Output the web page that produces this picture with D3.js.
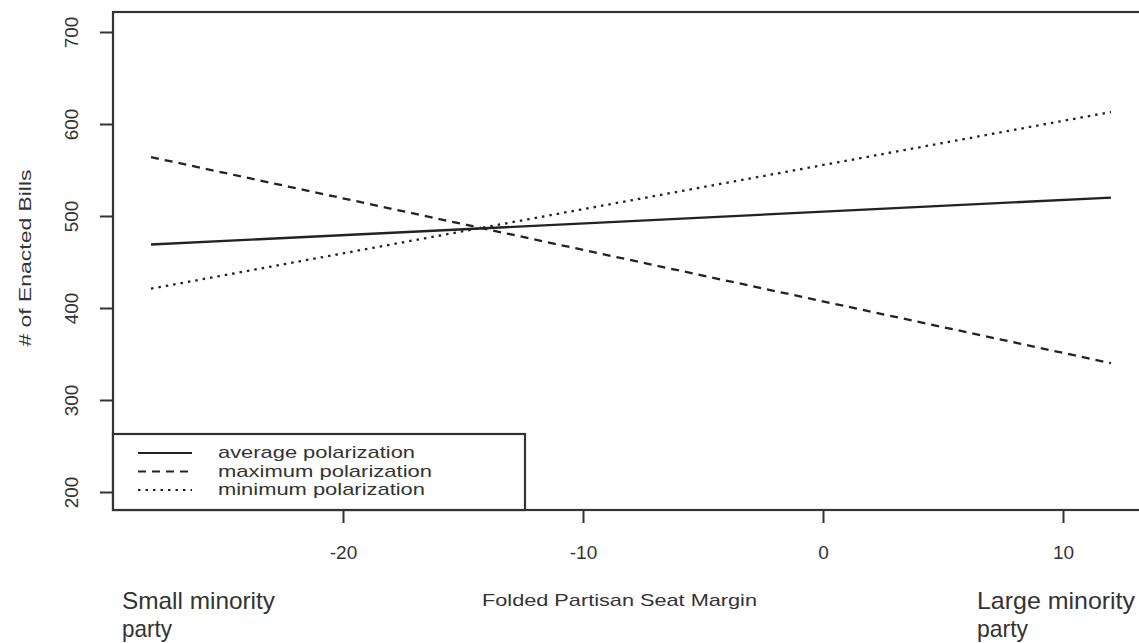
<!DOCTYPE html>
<html>
<head>
<meta charset="utf-8">
<script src="https://cdn.jsdelivr.net/npm/d3@7"></script>
<style>
  html, body { margin: 0; padding: 0; background: #fff; }
  svg { display: block; }
  text { font-family: "Liberation Sans", Arial, sans-serif; fill: #333; }
</style>
</head>
<body>
<svg id="chart" width="1139" height="643"></svg>
<script>
// ---- data ----
const xTicks = [-20, -10, 0, 10];
const yTicks = [200, 300, 400, 500, 600, 700];
const seatMargin = [-28, 12];
const avgBills = [469, 520];
const maxBills = [564, 340];
const minBills = [421, 613];
const seriesNames = ["average polarization", "maximum polarization", "minimum polarization"];
const xTitle = "Folded Partisan Seat Margin";
const yTitle = "# of Enacted Bills";
const leftNote = ["Small minority", "party"];
const rightNote = ["Large minority", "party"];

// ---- layout ----
const svg = d3.select("#chart");
const plot = { left: 113, top: 12, right: 1141, bottom: 510 };
const x = d3.scaleLinear().domain([-20, 10]).range([343, 1063]);
const y = d3.scaleLinear().domain([200, 700]).range([492, 32]);
const ink = "#333";

const series = [
  { name: seriesNames[0], values: avgBills, dash: null },
  { name: seriesNames[1], values: maxBills, dash: "8,6" },
  { name: seriesNames[2], values: minBills, dash: "2.5,5" }
];

// plot frame
svg.append("rect")
  .attr("x", plot.left).attr("y", plot.top)
  .attr("width", plot.right - plot.left).attr("height", plot.bottom - plot.top)
  .attr("fill", "none").attr("stroke", ink).attr("stroke-width", 2.2);

// y axis
const yAxis = svg.append("g")
  .attr("transform", `translate(${plot.left},0)`)
  .call(d3.axisLeft(y).tickValues(yTicks).tickSize(13).tickFormat(d3.format("d")));
yAxis.select(".domain").remove();
yAxis.selectAll(".tick line").attr("stroke", ink).attr("stroke-width", 2);
yAxis.selectAll(".tick text")
  .attr("x", null).attr("dy", null)
  .attr("text-anchor", "middle")
  .attr("transform", "translate(-35,0) rotate(-90)")
  .style("font-size", "19px").style("font-family", "'Liberation Sans', Arial, sans-serif")
  .attr("fill", ink);

// x axis
const xAxis = svg.append("g")
  .attr("transform", `translate(0,${plot.bottom})`)
  .call(d3.axisBottom(x).tickValues(xTicks).tickSize(13).tickFormat(d3.format("d")));
xAxis.select(".domain").remove();
xAxis.selectAll(".tick line").attr("stroke", ink).attr("stroke-width", 2);
xAxis.selectAll(".tick text")
  .attr("y", 49).attr("dy", null)
  .style("font-size", "19px").style("font-family", "'Liberation Sans', Arial, sans-serif")
  .attr("fill", ink)
  .text(d => d < 0 ? "-" + Math.abs(d) : String(d));

// axis titles
svg.append("text")
  .attr("transform", "translate(31,258) rotate(-90)")
  .attr("text-anchor", "middle")
  .attr("textLength", 177).attr("lengthAdjust", "spacingAndGlyphs")
  .style("font-size", "17px")
  .text(yTitle);

svg.append("text")
  .attr("x", 482).attr("y", 606)
  .attr("textLength", 275).attr("lengthAdjust", "spacingAndGlyphs")
  .style("font-size", "17px")
  .text(xTitle);

// corner notes
leftNote.forEach((t, i) => {
  svg.append("text")
    .attr("x", 122).attr("y", 609 + i * 28)
    .attr("textLength", i === 0 ? 153 : 50).attr("lengthAdjust", "spacingAndGlyphs")
    .style("font-size", "24px")
    .text(t);
});
rightNote.forEach((t, i) => {
  svg.append("text")
    .attr("x", 977).attr("y", 609 + i * 28)
    .attr("textLength", i === 0 ? 158 : 51).attr("lengthAdjust", "spacingAndGlyphs")
    .style("font-size", "24px")
    .text(t);
});

// lines
const line = d3.line().x((d, i) => x(seatMargin[i])).y(d => y(d));
series.forEach(s => {
  svg.append("path")
    .datum(s.values)
    .attr("d", line)
    .attr("fill", "none")
    .attr("stroke", "#222")
    .attr("stroke-width", 2.3)
    .attr("stroke-dasharray", s.dash);
});

// legend
const legendBox = { left: plot.left, top: 434, right: 525, bottom: plot.bottom };
svg.append("rect")
  .attr("x", legendBox.left).attr("y", legendBox.top)
  .attr("width", legendBox.right - legendBox.left)
  .attr("height", legendBox.bottom - legendBox.top)
  .attr("fill", "#fff").attr("stroke", ink).attr("stroke-width", 2.2);
const legendWidths = [197, 214, 207];
series.forEach((s, i) => {
  const cy = 453 + i * 18.5;
  svg.append("line")
    .attr("x1", 138).attr("x2", 192).attr("y1", cy).attr("y2", cy)
    .attr("stroke", "#222").attr("stroke-width", 2)
    .attr("stroke-dasharray", s.dash);
  svg.append("text")
    .attr("x", 218).attr("y", cy + 5)
    .attr("textLength", legendWidths[i]).attr("lengthAdjust", "spacingAndGlyphs")
    .style("font-size", "17px")
    .text(s.name);
});
</script>
</body>
</html>
